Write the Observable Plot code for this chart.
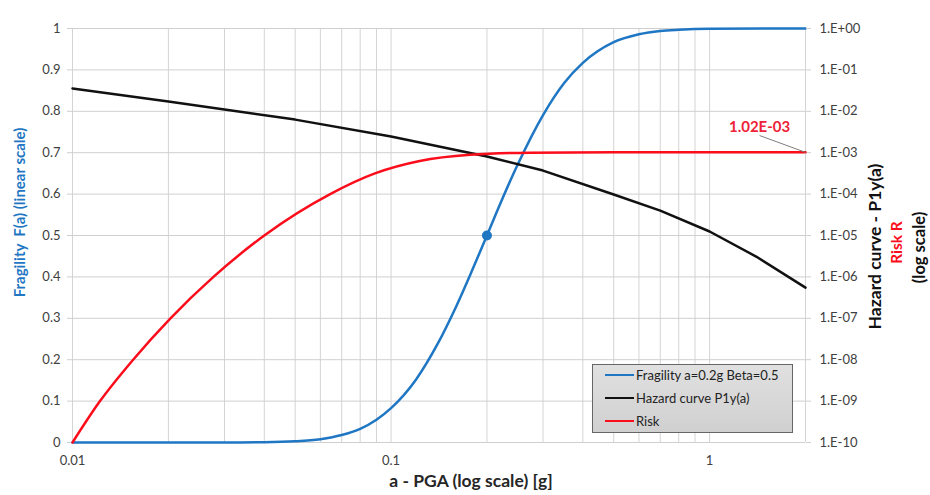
<!DOCTYPE html>
<html>
<head>
<meta charset="utf-8">
<script src="https://cdn.jsdelivr.net/npm/d3@7"></script>
<script src="https://cdn.jsdelivr.net/npm/@observablehq/plot@0.6"></script>
<style>
  body { margin: 0; background: #fff; font-family: Lato, "Open Sans", sans-serif; }
  #chart { position: relative; width: 930px; height: 495px; }
  #chart svg { position: absolute; left: 0; top: 0; }
  .legend { position: absolute; left: 592px; top: 364px; width: 199px; height: 67px;
            border: 1px solid #666; background: linear-gradient(#e0e0e0, #d0d0d0); }
  .legend .row { position: absolute; left: 12px; height: 16px; display: flex; align-items: center;
                 font-size: 13px; color: #222; white-space: nowrap; }
  .legend .sw { width: 29px; height: 0; border-top: 2.5px solid; margin-right: 2px; }
</style>
</head>
<body>
<div id="chart"></div>
<script>
// Fragility curve (median 0.2 g, beta 0.5), left linear axis
const fragA = [0.01, 0.02, 0.03, 0.04, 0.05, 0.06, 0.07, 0.08, 0.09, 0.1, 0.12, 0.14, 0.16, 0.18, 0.2,
               0.22, 0.25, 0.3, 0.35, 0.4, 0.5, 0.6, 0.7, 0.8, 1.0, 1.5, 2.0];
const fragF = [0, 0, 0.0001, 0.0006, 0.0028, 0.008, 0.018, 0.033, 0.055, 0.083, 0.153, 0.238, 0.328, 0.417, 0.5,
               0.576, 0.672, 0.791, 0.869, 0.917, 0.967, 0.986, 0.994, 0.997, 0.9994, 1.0, 1.0];
const medianPoint = { a: 0.2, F: 0.5 };

// Annual hazard curve P1y(a), right log axis
const hazA = [0.01, 0.02, 0.03, 0.05, 0.1, 0.2, 0.3, 0.5, 0.7, 1.0, 1.4, 2.0];
const hazP = [3.56e-2, 1.73e-2, 1.10e-2, 6.3e-3, 2.46e-3, 8.1e-4, 3.7e-4, 9.8e-5, 4.0e-5, 1.25e-5, 3.1e-6, 5.5e-7];

// Cumulative risk R, right log axis
const riskA = [0.01, 0.0122, 0.0155, 0.0203, 0.0277, 0.040, 0.0644, 0.089, 0.123, 0.177, 0.273, 0.5, 1.0, 2.0];
const riskR = [1e-10, 1e-9, 1e-8, 1e-7, 1e-6, 1e-5, 1e-4, 3.16e-4, 6.3e-4, 8.9e-4, 1.0e-3, 1.02e-3, 1.02e-3, 1.02e-3];
const riskLabelAt = { a: 1.435, r: 2.6e-3 };

// Axis ticks
const xTicks = [0.01, 0.1, 1];
const xGrid = [0.01, 0.02, 0.03, 0.04, 0.05, 0.06, 0.07, 0.08, 0.09,
               0.1, 0.2, 0.3, 0.4, 0.5, 0.6, 0.7, 0.8, 0.9, 1, 2];
const yTicks = [0, 0.1, 0.2, 0.3, 0.4, 0.5, 0.6, 0.7, 0.8, 0.9, 1];
const yLogTicks = [1, 1e-1, 1e-2, 1e-3, 1e-4, 1e-5, 1e-6, 1e-7, 1e-8, 1e-9, 1e-10];

// Titles and legend text
const xTitle = "a - PGA (log scale) [g]";
const yLeftTitle = "Fragility  F(a) (linear scale)";
const yRightTitles = ["Hazard curve - P1y(a)", "Risk R", "(log scale)"];
const seriesNames = ["Fragility a=0.2g Beta=0.5", "Hazard curve P1y(a)", "Risk"];

const BLUE = "#1f77c4", BLACK = "#111111", RED = "#fb0d1b";
const W = 930, H = 495;
const margins = { marginTop: 28, marginRight: 125, marginBottom: 53, marginLeft: 72 };
const font = { fontFamily: "Lato, 'Open Sans', sans-serif", fontSize: "13px", background: "transparent", overflow: "visible" };

const fragility = fragA.map((a, i) => ({ a, F: fragF[i] }));
const hazard = hazA.map((a, i) => ({ a, p: hazP[i] }));
const risk = riskA.map((a, i) => ({ a, r: riskR[i] }));
const riskEnd = risk[risk.length - 1];

function sci(v) {
  const [m, e] = v.toExponential(2).split("e");
  const n = +e;
  return `${m}E${n < 0 ? "-" : "+"}${String(Math.abs(n)).padStart(2, "0")}`;
}
function logTick(v) {
  const n = Math.round(Math.log10(v));
  return `1.E${n < 0 ? "-" : "+"}${String(Math.abs(n)).padStart(2, "0")}`;
}

// Base layer: grid, left linear axis, x axis, fragility curve
const base = Plot.plot({
  width: W, height: H, ...margins, style: font,
  x: { type: "log", domain: [0.01, 2], label: null },
  y: { domain: [0, 1], label: null },
  marks: [
    Plot.gridX(xGrid, { stroke: "#d4d4d4", strokeOpacity: 1 }),
    Plot.gridY(yTicks, { stroke: "#cfcfcf", strokeOpacity: 1 }),
    Plot.axisX(xTicks, { tickSize: 0, tickPadding: 13, tickFormat: d => String(d), fill: "#404040", label: null }),
    Plot.axisY(yTicks, { tickSize: 5, stroke: "#cfcfcf", tickPadding: 7, fill: "#404040",
                         tickFormat: d => String(+d.toFixed(1)), label: null }),
    Plot.line(fragility, { x: "a", y: "F", stroke: BLUE, strokeWidth: 2.5, curve: "monotone-x" }),
    Plot.dot([medianPoint], { x: "a", y: "F", r: 5, fill: BLUE }),
    Plot.text([xTitle], { text: d => d, frameAnchor: "bottom", dx: 32, dy: 44, fontWeight: "bold", fontSize: 17.5, fill: "#262626" }),
    Plot.text([yLeftTitle], { text: d => d, frameAnchor: "left", textAnchor: "middle", rotate: -90, dx: -52, dy: -23,
                              fontWeight: "bold", fontSize: 15, fill: BLUE })
  ]
});

// Overlay layer: right log axis, hazard and risk curves
const overlay = Plot.plot({
  width: W, height: H, ...margins, style: font,
  x: { type: "log", domain: [0.01, 2], label: null, axis: null },
  y: { type: "log", domain: [1e-10, 1], label: null },
  marks: [
    Plot.axisY(yLogTicks, { anchor: "right", tickSize: 5, stroke: "#cfcfcf", tickPadding: 9,
                            fill: "#404040", tickFormat: logTick, label: null }),
    Plot.line(hazard, { x: "a", y: "p", stroke: BLACK, strokeWidth: 2.5 }),
    Plot.line(risk, { x: "a", y: "r", stroke: RED, strokeWidth: 2.5, curve: "monotone-x" }),
    Plot.link([riskEnd], { x1: "a", y1: "r", x2: () => riskLabelAt.a, y2: () => riskLabelAt.r,
                           stroke: "#7f7f7f", strokeWidth: 1 }),
    Plot.text([riskLabelAt], { x: "a", y: "r", text: () => sci(riskEnd.r), dy: -8,
                               fontWeight: "bold", fontSize: 15, fill: "#ee2238" }),
    Plot.text([yRightTitles[0]], { text: d => d, frameAnchor: "right", textAnchor: "middle", rotate: -90, dx: 70, dy: 11,
                                   fontWeight: "bold", fontSize: 17.5, fill: "#111" }),
    Plot.text([yRightTitles[1]], { text: d => d, frameAnchor: "right", textAnchor: "middle", rotate: -90, dx: 92, dy: 7,
                                   fontWeight: "bold", fontSize: 15.5, fill: RED }),
    Plot.text([yRightTitles[2]], { text: d => d, frameAnchor: "right", textAnchor: "middle", rotate: -90, dx: 114, dy: 12,
                                   fontWeight: "bold", fontSize: 16.5, fill: "#111" })
  ]
});

const chart = document.getElementById("chart");
chart.append(base, overlay);

// Legend box
const legend = document.createElement("div");
legend.className = "legend";
[BLUE, BLACK, RED].forEach((c, i) => {
  const row = document.createElement("div");
  row.className = "row";
  row.style.top = (2 + i * 23) + "px";
  const sw = document.createElement("span");
  sw.className = "sw";
  sw.style.borderColor = c;
  row.append(sw, document.createTextNode(seriesNames[i]));
  legend.append(row);
});
chart.append(legend);
</script>
</body>
</html>
